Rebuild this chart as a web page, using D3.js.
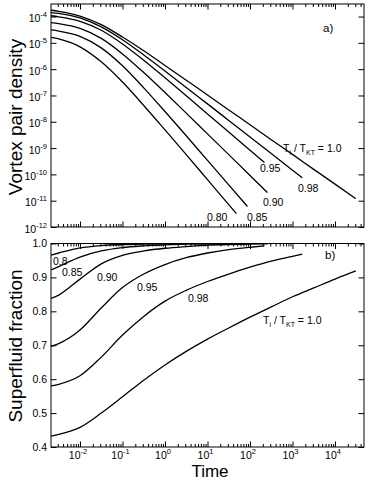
<!DOCTYPE html>
<html><head><meta charset="utf-8">
<script src="https://cdn.jsdelivr.net/npm/d3@7"></script>
<style>
body{margin:0;background:#fff}
text{font-family:"Liberation Sans",Arial,Helvetica,sans-serif;fill:#000}
</style>
</head><body>
<svg id="c" width="374" height="487"></svg>
<script>
// ---------- data ----------
const temperatures = ["1.0","0.98","0.95","0.90","0.85","0.80"];
const timeExponents = [-2,-1,0,1,2,3,4];
const densityExponents = [-4,-5,-6,-7,-8,-9,-10,-11,-12];
const fractionTicks = [0.4,0.5,0.6,0.7,0.8,0.9,1.0];

// log10(time) sample points for each curve
const logTime_100 = [-2.68,-2.5,-2,-1.5,-1,-0.5,0,0.5,1,1.5,2,2.5,3,3.5,4,4.49];
const logTime_098 = [-2.68,-2.5,-2,-1.5,-1,-0.5,0,0.5,1,1.5,2,2.5,3,3.23];
const logTime_095 = [-2.68,-2.5,-2,-1.5,-1,-0.5,0,0.5,1,1.5,2,2.34];
const logTime_090 = [-2.68,-2.5,-2,-1.5,-1,-0.5,0,0.5,1,1.5,2,2.41];
const logTime_085 = [-2.68,-2.5,-2,-1.5,-1,-0.5,0,0.5,1,1.5,1.94];
const logTime_080 = [-2.68,-2.5,-2,-1.5,-1,-0.5,0,0.5,1,1.5,1.68];

// panel a) log10(vortex pair density)
const logDensity_100 = [-3.76,-3.80,-3.98,-4.31,-4.78,-5.30,-5.86,-6.42,-6.98,-7.55,-8.11,-8.68,-9.24,-9.81,-10.37,-10.92];
const logDensity_098 = [-3.85,-3.88,-4.05,-4.39,-4.88,-5.46,-6.07,-6.70,-7.32,-7.95,-8.58,-9.21,-9.84,-10.13];
const logDensity_095 = [-3.97,-4.01,-4.18,-4.52,-5.04,-5.66,-6.33,-7.01,-7.70,-8.39,-9.08,-9.55];
const logDensity_090 = [-4.23,-4.27,-4.45,-4.83,-5.42,-6.13,-6.89,-7.67,-8.46,-9.25,-10.04,-10.69];
const logDensity_085 = [-4.51,-4.55,-4.75,-5.19,-5.87,-6.71,-7.61,-8.53,-9.47,-10.40,-11.22];
const logDensity_080 = [-4.79,-4.85,-5.15,-5.72,-6.49,-7.38,-8.31,-9.25,-10.20,-11.15,-11.49];

// panel b) superfluid fraction
const fraction_100 = [0.432,0.437,0.458,0.500,0.548,0.597,0.642,0.682,0.718,0.751,0.783,0.813,0.843,0.869,0.895,0.919];
const fraction_098 = [0.580,0.585,0.610,0.665,0.730,0.785,0.830,0.862,0.888,0.910,0.930,0.948,0.962,0.969];
const fraction_095 = [0.697,0.705,0.745,0.810,0.870,0.910,0.938,0.958,0.972,0.982,0.989,0.993];
const fraction_090 = [0.838,0.848,0.895,0.940,0.965,0.978,0.986,0.991,0.995,0.997,0.998,0.999];
const fraction_085 = [0.922,0.932,0.960,0.978,0.988,0.993,0.996,0.998,0.999,0.9995,1.0];
const fraction_080 = [0.966,0.972,0.987,0.994,0.997,0.998,0.999,0.9995,1.0,1.0,1.0];

const logTimes = [logTime_100,logTime_098,logTime_095,logTime_090,logTime_085,logTime_080];
const logDensities = [logDensity_100,logDensity_098,logDensity_095,logDensity_090,logDensity_085,logDensity_080];
const fractions = [fraction_100,fraction_098,fraction_095,fraction_090,fraction_085,fraction_080];

// ---------- layout ----------
const svg = d3.select("#c");
const L = 51, R = 364;
const topA = 4, botA = 227, topB = 243.5, botB = 447;
const FS = 10.5, SUP = 7.5;

const x = d3.scaleLog().domain([Math.pow(10,-2.682), Math.pow(10,4.682)]).range([L, R]);
const yA = d3.scaleLog().domain([1e-12, 3e-4]).range([botA, topA]);
const yB = d3.scaleLinear().domain([0.4, 1.0]).range([botB, topB]);

const allX = x.ticks();
const majorX = timeExponents.map(e => Math.pow(10, e));
const minorX = allX.filter(v => Math.abs(Math.log10(v) - Math.round(Math.log10(v))) > 1e-6);

function frame(y0, y1){
  svg.append("rect").attr("x", L).attr("y", y0).attr("width", R-L).attr("height", y1-y0)
    .attr("fill","none").attr("stroke","#000").attr("stroke-width",1);
}
function styleAxis(g){
  g.select(".domain").remove();
  g.selectAll("line").attr("stroke","#000").attr("stroke-width",1);
  g.selectAll("text").remove();
}
function xTicks(y0, y1){
  svg.append("g").attr("transform",`translate(0,${y1})`)
    .call(d3.axisBottom(x).tickValues(minorX).tickSize(-3).tickFormat("")).call(styleAxis);
  svg.append("g").attr("transform",`translate(0,${y1})`)
    .call(d3.axisBottom(x).tickValues(majorX).tickSize(-5.5).tickFormat("")).call(styleAxis);
  svg.append("g").attr("transform",`translate(0,${y0})`)
    .call(d3.axisTop(x).tickValues(minorX).tickSize(-3).tickFormat("")).call(styleAxis);
  svg.append("g").attr("transform",`translate(0,${y0})`)
    .call(d3.axisTop(x).tickValues(majorX).tickSize(-5.5).tickFormat("")).call(styleAxis);
}
function yTicks(scale, values){
  svg.append("g").attr("transform",`translate(${L},0)`)
    .call(d3.axisLeft(scale).tickValues(values).tickSize(-5.5).tickFormat("")).call(styleAxis);
  svg.append("g").attr("transform",`translate(${R},0)`)
    .call(d3.axisRight(scale).tickValues(values).tickSize(-5.5).tickFormat("")).call(styleAxis);
}

// ---------- panel a ----------
frame(topA, botA);
xTicks(topA, botA);
const densityTickValues = densityExponents.map(e => Math.pow(10, e));
yTicks(yA, densityTickValues);
densityExponents.forEach(e => {
  const t = svg.append("text").attr("x", 47).attr("y", yA(Math.pow(10,e)) + 5.5)
    .attr("text-anchor","end").attr("font-size", FS);
  t.append("tspan").text("10");
  t.append("tspan").attr("dy", -5).attr("font-size", SUP).text(String(e));
});

const clipA = svg.append("clipPath").attr("id","clipA").append("rect")
  .attr("x", L).attr("y", topA).attr("width", R-L).attr("height", botA-topA);
const lineA = d3.line().x(d => x(Math.pow(10,d[0]))).y(d => yA(Math.pow(10,d[1]))).curve(d3.curveMonotoneX);
const gA = svg.append("g").attr("clip-path","url(#clipA)");
temperatures.forEach((T,i) => {
  const pts = logTimes[i].map((t,j) => [t, logDensities[i][j]]);
  gA.append("path").attr("d", lineA(pts)).attr("fill","none").attr("stroke","#000").attr("stroke-width",1.3);
});

// ---------- panel b ----------
frame(topB, botB);
xTicks(topB, botB);
yTicks(yB, fractionTicks);
fractionTicks.forEach(v => {
  svg.append("text").attr("x", 47).attr("y", yB(v) + 3.8).attr("text-anchor","end")
    .attr("font-size", FS).text(v.toFixed(1));
});
const clipB = svg.append("clipPath").attr("id","clipB").append("rect")
  .attr("x", L).attr("y", topB).attr("width", R-L).attr("height", botB-topB);
const lineB = d3.line().x(d => x(Math.pow(10,d[0]))).y(d => yB(d[1])).curve(d3.curveMonotoneX);
const gB = svg.append("g").attr("clip-path","url(#clipB)");
temperatures.forEach((T,i) => {
  const pts = logTimes[i].map((t,j) => [t, fractions[i][j]]);
  gB.append("path").attr("d", lineB(pts)).attr("fill","none").attr("stroke","#000").attr("stroke-width",1.3);
});

// x tick labels (bottom panel)
timeExponents.forEach(e => {
  const t = svg.append("text").attr("x", x(Math.pow(10,e)) - 2).attr("y", botB + 11.5)
    .attr("text-anchor","middle").attr("font-size", FS);
  t.append("tspan").text("10");
  t.append("tspan").attr("dy", -5).attr("font-size", SUP).text(String(e));
});

// ---------- titles ----------
svg.append("text").attr("transform","translate(21.5,117) rotate(-90)").attr("text-anchor","middle")
  .attr("font-size", 19).text("Vortex pair density");
svg.append("text").attr("transform","translate(21.5,346) rotate(-90)").attr("text-anchor","middle")
  .attr("font-size", 19).text("Superfluid fraction");
svg.append("text").attr("x", 210).attr("y", 477).attr("text-anchor","middle")
  .attr("font-size", 17).text("Time");

// ---------- annotations ----------
function tLabel(xp, yp){
  const t = svg.append("text").attr("x", xp).attr("y", yp).attr("font-size", FS);
  t.append("tspan").text("T");
  t.append("tspan").attr("dy", 2.5).attr("font-size", 7).text("i");
  t.append("tspan").attr("dy", -2.5).text(" / T");
  t.append("tspan").attr("dy", 2.5).attr("font-size", 7).text("KT");
  t.append("tspan").attr("dy", -2.5).text(" = " + temperatures[0]);
}
function label(txt, xp, yp){
  svg.append("text").attr("x", xp).attr("y", yp).attr("font-size", FS).text(txt);
}
svg.append("text").attr("x", 323).attr("y", 32).attr("font-size", 11.5).text("a)");
svg.append("text").attr("x", 325).attr("y", 259).attr("font-size", 11.5).text("b)");
tLabel(283, 152);
label(temperatures[2], 260, 172);
label(temperatures[1], 298, 192);
label(temperatures[3], 263, 206);
label(temperatures[5], 207, 221);
label(temperatures[4], 247, 221);

label("0.8", 53, 265);
label(temperatures[4], 62, 276);
label(temperatures[3], 97, 281);
label(temperatures[2], 137, 291);
label(temperatures[1], 188, 302);
tLabel(263, 324);
</script>
</body></html>
